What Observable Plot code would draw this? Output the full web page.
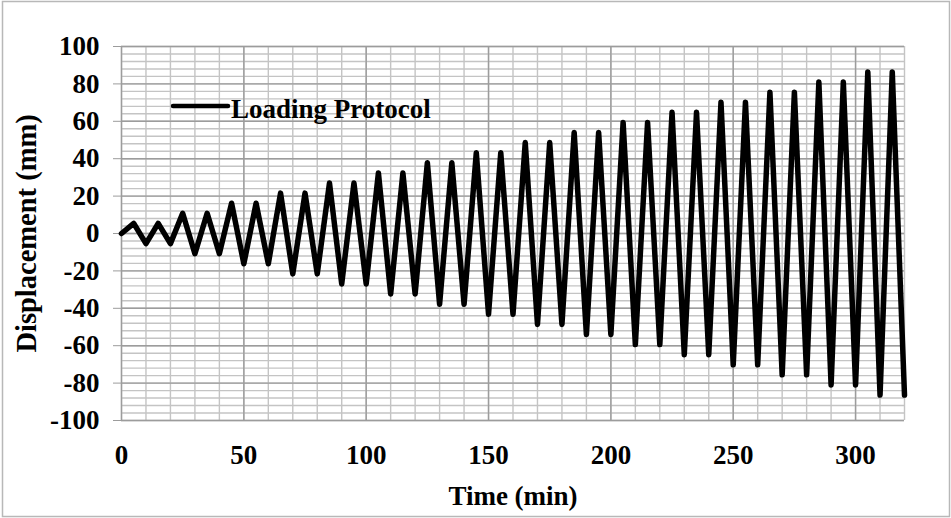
<!DOCTYPE html>
<html>
<head>
<meta charset="utf-8">
<script src="https://cdn.jsdelivr.net/npm/d3@7"></script>
<script src="https://cdn.jsdelivr.net/npm/@observablehq/plot@0.6"></script>
<style>
  html, body { margin: 0; padding: 0; background: white; }
  #chart svg { display: block; }
</style>
</head>
<body>
<div id="chart"></div>
<script>
// Time (min) and displacement (mm)
const time = [0, 5, 10, 15, 20, 25, 30, 35, 40, 45, 50, 55, 60, 65, 70, 75, 80,
  85, 90, 95, 100, 105, 110, 115, 120, 125, 130, 135, 140, 145, 150, 155, 160,
  165, 170, 175, 180, 185, 190, 195, 200, 205, 210, 215, 220, 225, 230, 235, 240,
  245, 250, 255, 260, 265, 270, 275, 280, 285, 290, 295, 300, 305, 310, 315, 320];
const displacement = [0,
  5.4, -5.4, 5.4, -5.4,
  10.8, -10.8, 10.8, -10.8,
  16.2, -16.2, 16.2, -16.2,
  21.6, -21.6, 21.6, -21.6,
  27, -27, 27, -27,
  32.4, -32.4, 32.4, -32.4,
  37.8, -37.8, 37.8, -37.8,
  43.2, -43.2, 43.2, -43.2,
  48.6, -48.6, 48.6, -48.6,
  54, -54, 54, -54,
  59.4, -59.4, 59.4, -59.4,
  64.8, -64.8, 64.8, -64.8,
  70.2, -70.2, 70.2, -70.2,
  75.6, -75.6, 75.6, -75.6,
  81, -81, 81, -81,
  86.4, -86.4, 86.4, -86.4];

const xTickLabels = [0, 50, 100, 150, 200, 250, 300];
const yTickLabels = [-100, -80, -60, -40, -20, 0, 20, 40, 60, 80, 100];
const xMinorGrid = d3.range(0, 321, 10);
const yMinorGrid = d3.range(-100, 101, 4);
const xMajorGrid = [0, 50, 100, 150, 200, 250, 300];
const yMajorGrid = yTickLabels;
const seriesName = "Loading Protocol";
const xTitle = "Time (min)";
const yTitle = "Displacement (mm)";

const data = time.map((t, i) => ({t, d: displacement[i]}));

const font = '"Liberation Serif", "Times New Roman", serif';
const fmt = d => String(d);

const chart = Plot.plot({
  width: 951,
  height: 518,
  marginLeft: 121,
  marginRight: 47,
  marginTop: 46,
  marginBottom: 98,
  style: {fontFamily: font, fontSize: "27px", fontWeight: "bold", color: "black", background: "white"},
  x: {domain: [0, 320], label: null},
  y: {domain: [-100, 100], label: null},
  marks: [
    Plot.gridX(xMinorGrid, {stroke: "#c4c4c4", strokeOpacity: 1, strokeWidth: 1.4}),
    Plot.gridY(yMinorGrid, {stroke: "#c4c4c4", strokeOpacity: 1, strokeWidth: 1.4}),
    Plot.gridX(xMajorGrid, {stroke: "#9c9c9c", strokeOpacity: 1, strokeWidth: 1.4}),
    Plot.gridY(yMajorGrid, {stroke: "#9c9c9c", strokeOpacity: 1, strokeWidth: 1.4}),
    Plot.axisY(yTickLabels, {tickSize: 8, tickPadding: 14, stroke: "#9c9c9c", fill: "black", label: null, fontSize: 27, tickFormat: fmt}),
    Plot.axisX(xTickLabels, {tickSize: 0, tickPadding: 24, fill: "black", label: null, fontSize: 27, tickFormat: fmt}),
    Plot.line(data, {x: "t", y: "d", stroke: "black", strokeWidth: 5.5, strokeLinejoin: "round", strokeLinecap: "round"}),
    Plot.text([yTitle], {frameAnchor: "left", rotate: -90, dx: -95, textAnchor: "middle", lineAnchor: "middle", fontSize: 28.5, fontWeight: "bold", fill: "black"}),
    Plot.text([xTitle], {frameAnchor: "bottom", dy: 76, textAnchor: "middle", lineAnchor: "middle", fontSize: 27, fontWeight: "bold", fill: "black"})
  ]
});

const svg = d3.select(chart);
// legend
svg.append("line")
  .attr("x1", 173).attr("x2", 228).attr("y1", 106).attr("y2", 106)
  .attr("stroke", "black").attr("stroke-width", 4.5).attr("stroke-linecap", "round");
svg.append("text")
  .attr("x", 231).attr("y", 118)
  .attr("text-anchor", "start")
  .attr("font-family", font).attr("font-size", 27).attr("font-weight", "bold")
  .attr("fill", "black")
  .text(seriesName);
// outer border
svg.append("rect")
  .attr("x", 2.5).attr("y", 1.5).attr("width", 947).attr("height", 515)
  .attr("fill", "none").attr("stroke", "#b8b8b8").attr("stroke-width", 1.5);

document.getElementById("chart").appendChild(chart);
</script>
</body>
</html>
